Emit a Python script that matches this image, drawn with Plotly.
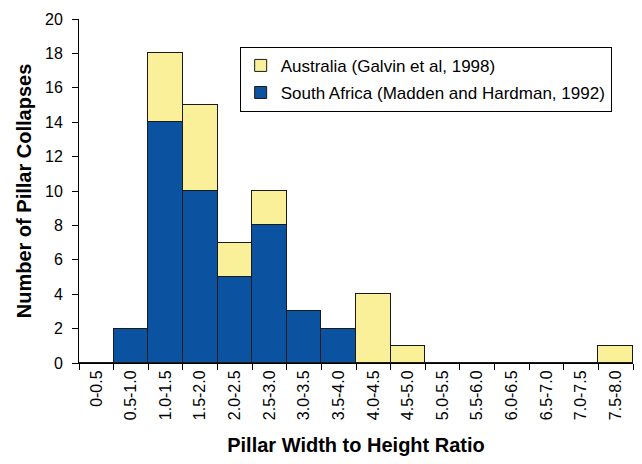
import plotly.graph_objects as go

categories = ["0-0.5", "0.5-1.0", "1.0-1.5", "1.5-2.0", "2.0-2.5", "2.5-3.0", "3.0-3.5", "3.5-4.0",
              "4.0-4.5", "4.5-5.0", "5.0-5.5", "5.5-6.0", "6.0-6.5", "6.5-7.0", "7.0-7.5", "7.5-8.0"]
south_africa = [0, 2, 14, 10, 5, 8, 3, 2, 0, 0, 0, 0, 0, 0, 0, 0]
australia = [0, 0, 4, 5, 2, 2, 0, 0, 4, 1, 0, 0, 0, 0, 0, 1]

fig = go.Figure()
fig.add_trace(go.Bar(x=categories, y=south_africa, name="South Africa (Madden and Hardman, 1992)",
                     legendgroup="sa", legendrank=2,
                     marker=dict(color="#0b52a0", line=dict(color="#1a1a1a", width=1))))
fig.add_trace(go.Bar(x=categories, y=australia, name="Australia (Galvin et al, 1998)",
                     legendgroup="au", legendrank=1,
                     marker=dict(color="#faf09a", line=dict(color="#1a1a1a", width=1))))

fig.update_layout(
    barmode="stack", bargap=0,
    width=642, height=464,
    margin=dict(l=71, r=17, t=11, b=109, autoexpand=False),
    paper_bgcolor="white", plot_bgcolor="white",
    font=dict(family="Liberation Sans, Arial, sans-serif", size=16, color="black"),
    legend=dict(x=0.29, y=0.919, xanchor="left", yanchor="top", traceorder="grouped",
                tracegroupgap=2,
                bordercolor="black", borderwidth=1, bgcolor="rgba(255,255,255,0)",
                font=dict(size=17), itemwidth=30),
    showlegend=True,
)
fig.update_xaxes(
    type="category", tickangle=-90, showline=True, linecolor="black", linewidth=1,
    ticks="outside", ticklen=6, tickcolor="black", tickson="boundaries",
    title=dict(text="<b>Pillar Width to Height Ratio</b>", font=dict(size=20), standoff=18),
    showgrid=False, automargin=False,
)
fig.update_yaxes(
    range=[0, 20], dtick=2, showline=True, linecolor="black", linewidth=1,
    ticks="outside", ticklen=6, tickcolor="black", ticklabelstandoff=6,
    title=dict(text="<b>Number of Pillar Collapses</b>", font=dict(size=20), standoff=8),
    showgrid=False, zeroline=False, automargin=False,
)

fig.write_html("out.html")
